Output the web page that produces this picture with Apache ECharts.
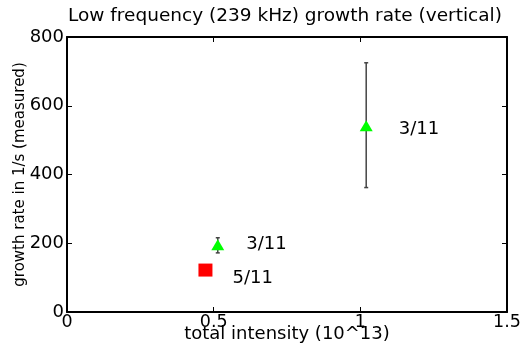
<!DOCTYPE html>
<html>
<head>
<meta charset="utf-8">
<script src="https://cdn.jsdelivr.net/npm/echarts@6/dist/echarts.min.js"></script>
<style>
  html, body { margin: 0; padding: 0; background: #fff; }
  #chart { width: 531px; height: 351px; }
</style>
</head>
<body>
<div id="chart"></div>
<script>
// Data
var triangleX = [1.02, 0.514];
var triangleY = [542, 196];
var triangleLabels = ['3/11', '3/11'];
var errLow = [362, 172];
var errHigh = [725, 216];

var squareX = [0.472];
var squareY = [122];
var squareLabels = ['5/11'];

var xTicks = [0, 0.5, 1, 1.5];
var yTicks = [0, 200, 400, 600, 800];

// label placement (style only)
var triangleLabelOffsets = [[0, 4], [0, 0]];
var triangleLabelDist = [26, 22];
var squareLabelOffsets = [[0, 8]];

var FONT = 'DejaVu Sans, sans-serif';

var triangleData = triangleX.map(function (x, i) {
    return {
        value: [x, triangleY[i]],
        name: triangleLabels[i],
        label: { offset: triangleLabelOffsets[i], distance: triangleLabelDist[i] }
    };
});
var squareData = squareX.map(function (x, i) {
    return {
        value: [x, squareY[i]],
        name: squareLabels[i],
        label: { offset: squareLabelOffsets[i] }
    };
});
var errData = triangleX.map(function (x, i) {
    return [x, errLow[i], errHigh[i]];
});

var axisCommon = {
    type: 'value',
    nameMoveOverlap: false,
    axisLine: { show: true, onZero: false, lineStyle: { color: '#000', width: 2 } },
    axisTick: { show: true, inside: true, length: 5, lineStyle: { color: '#000', width: 1 } },
    splitLine: { show: false }
};

var option = {
    animation: false,
    textStyle: { fontFamily: FONT },
    title: {
        text: 'Low frequency (239 kHz) growth rate (vertical)',
        left: 285,
        textAlign: 'center',
        top: 7,
        padding: 0,
        textStyle: { fontSize: 18.5, fontWeight: 'normal', color: '#000', fontFamily: FONT }
    },
    grid: { left: 67, right: 24, top: 37, bottom: 39, containLabel: false, outerBoundsMode: 'none' },
    xAxis: [
        Object.assign({}, axisCommon, {
            position: 'bottom',
            min: xTicks[0], max: xTicks[xTicks.length - 1], interval: 0.5,
            name: 'total intensity (10^13)',
            nameLocation: 'middle',
            nameGap: 13,
            nameTextStyle: { fontSize: 18, color: '#000', fontFamily: FONT, verticalAlign: 'top' },
            axisLabel: { show: true, margin: 1, fontSize: 17.5, color: '#000', fontFamily: FONT }
        }),
        Object.assign({}, axisCommon, {
            position: 'top',
            min: xTicks[0], max: xTicks[xTicks.length - 1], interval: 0.5,
            axisLabel: { show: false }
        })
    ],
    yAxis: [
        Object.assign({}, axisCommon, {
            position: 'left',
            min: yTicks[0], max: yTicks[yTicks.length - 1], interval: 200,
            name: 'growth rate in 1/s (measured)',
            nameLocation: 'middle',
            nameGap: 39,
            nameTextStyle: { fontSize: 15, color: '#000', fontFamily: FONT },
            axisLabel: { show: true, margin: 3, fontSize: 18, color: '#000', fontFamily: FONT }
        }),
        Object.assign({}, axisCommon, {
            position: 'right',
            min: yTicks[0], max: yTicks[yTicks.length - 1], interval: 200,
            axisLabel: { show: false }
        })
    ],
    series: [
        {
            type: 'custom',
            name: 'error',
            data: errData,
            z: 1,
            renderItem: function (params, api) {
                var x = api.value(0);
                var lo = api.coord([x, api.value(1)]);
                var hi = api.coord([x, api.value(2)]);
                var cap = 2;
                var style = { stroke: '#444', lineWidth: 1.5 };
                return {
                    type: 'group',
                    children: [
                        { type: 'line', shape: { x1: lo[0], y1: lo[1], x2: hi[0], y2: hi[1] }, style: style },
                        { type: 'line', shape: { x1: lo[0] - cap, y1: lo[1], x2: lo[0] + cap, y2: lo[1] }, style: style },
                        { type: 'line', shape: { x1: hi[0] - cap, y1: hi[1], x2: hi[0] + cap, y2: hi[1] }, style: style }
                    ]
                };
            }
        },
        {
            type: 'scatter',
            name: 'triangles',
            data: triangleData,
            symbol: 'triangle',
            symbolSize: [13, 11],
            z: 3,
            itemStyle: { color: '#00ff00', opacity: 1 },
            label: {
                show: true,
                position: 'right',
                formatter: '{b}',
                fontSize: 18,
                color: '#000',
                fontFamily: FONT
            }
        },
        {
            type: 'scatter',
            name: 'squares',
            data: squareData,
            symbol: 'rect',
            symbolSize: [14, 13],
            z: 3,
            itemStyle: { color: '#ff0000', opacity: 1 },
            label: {
                show: true,
                position: 'right',
                distance: 20,
                formatter: '{b}',
                fontSize: 18,
                color: '#000',
                fontFamily: FONT
            }
        }
    ]
};

var chart = echarts.init(document.getElementById('chart'));
chart.setOption(option);
</script>
</body>
</html>
